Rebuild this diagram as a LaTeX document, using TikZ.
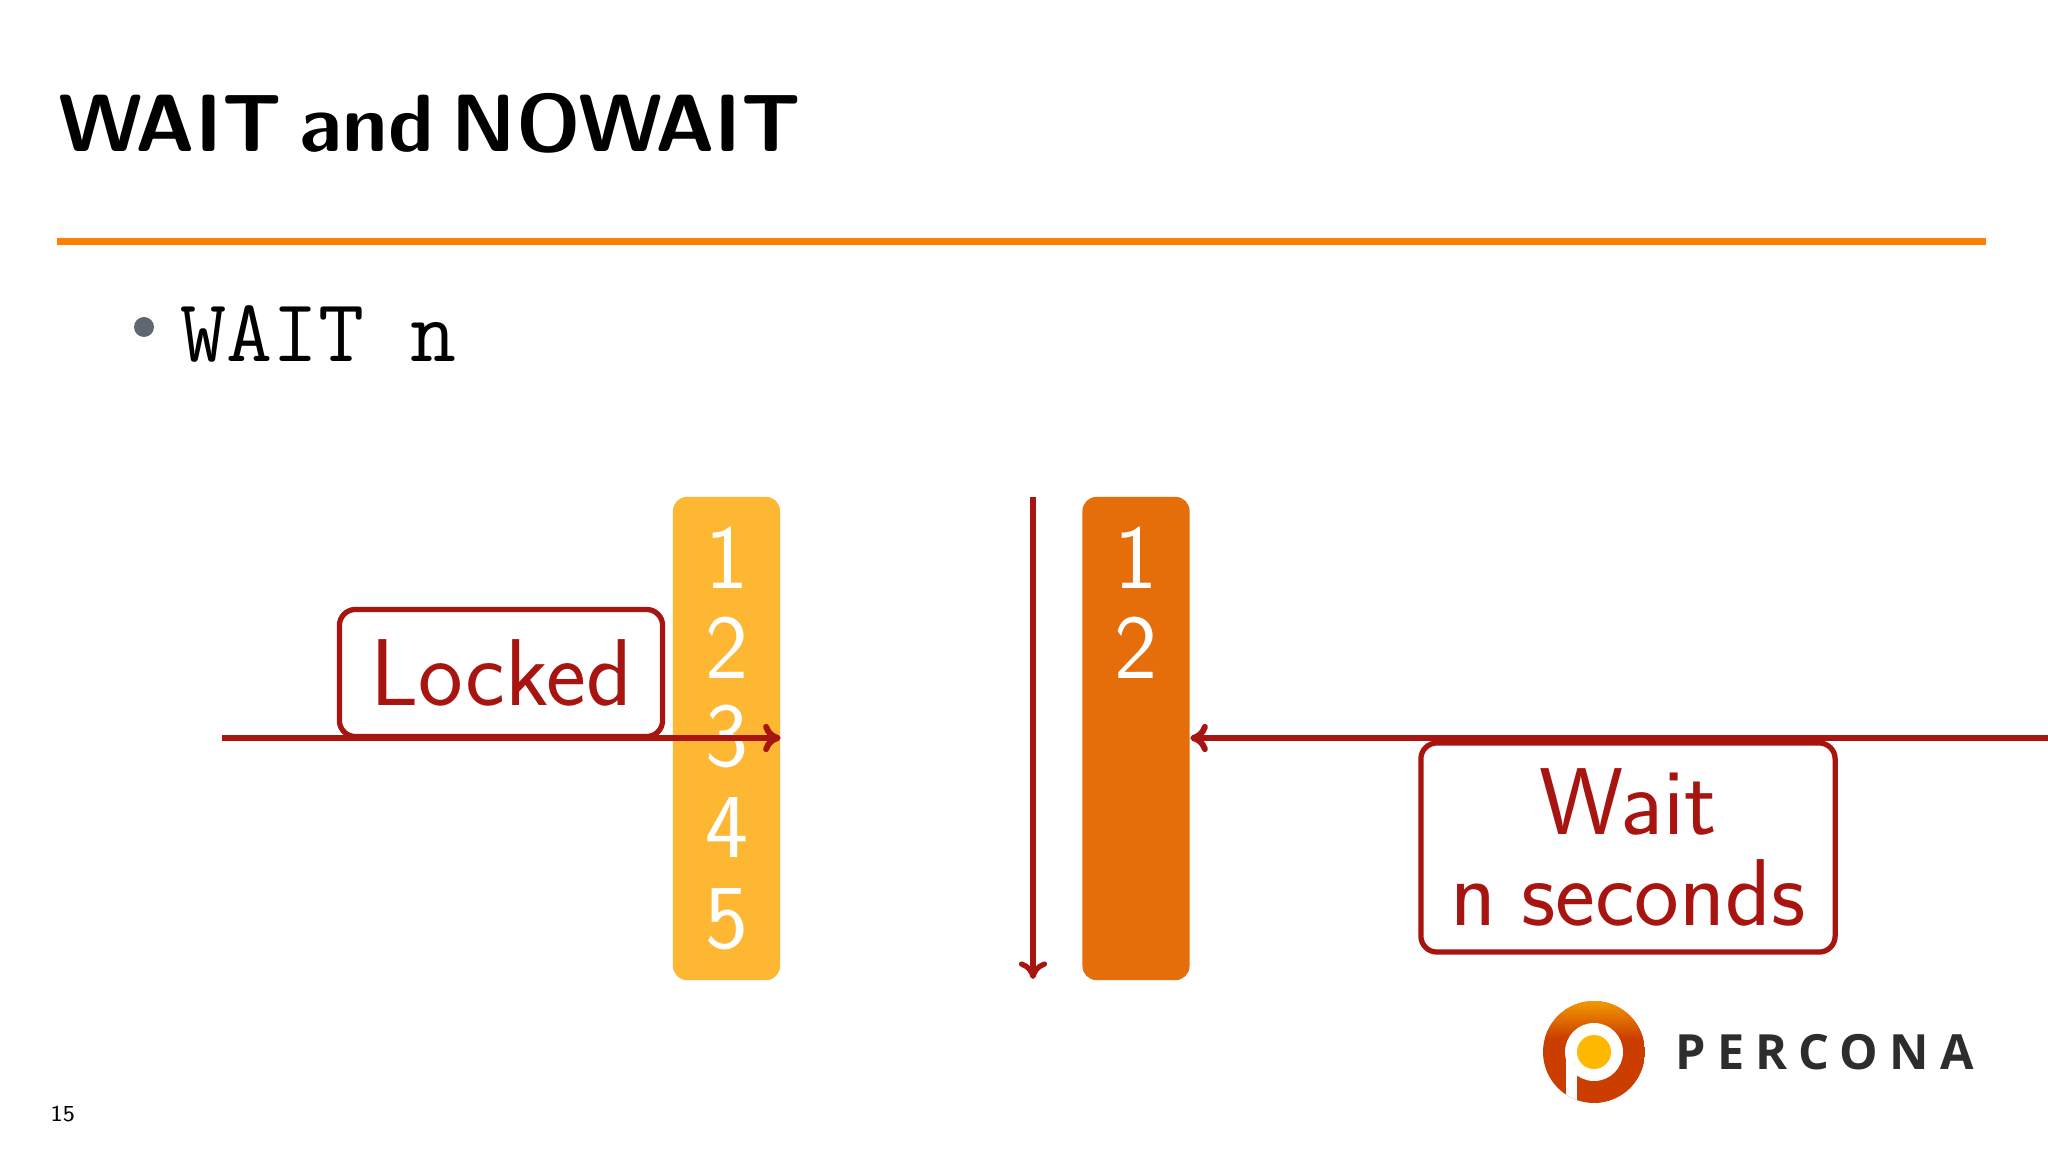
\documentclass[tikz,border=0pt]{standalone}
\usepackage{fontspec}
\usepackage{xcolor}
\usetikzlibrary{arrows.meta}
\newfontfamily\logofont[LetterSpace=23]{Open Sans}
\definecolor{lockred}{HTML}{A81510}
\definecolor{ruleorange}{HTML}{FF7F00}
\definecolor{bulletgray}{HTML}{5F6770}
\definecolor{baryellow}{HTML}{FDB733}
\definecolor{barorange}{HTML}{E56D0A}
\definecolor{logored}{HTML}{CC3E00}
\definecolor{logotop}{HTML}{F29A00}
\definecolor{logosun}{HTML}{FFB800}
\definecolor{logotext}{HTML}{2B2D2F}
\tikzset{
  rowbar/.style={rounded corners=0.14cm, minimum width=1.07cm, minimum height=4.83cm, inner sep=0pt},
  rownum/.style={text=white, font=\fontsize{26}{30}\selectfont\sffamily, inner sep=0pt},
  lockarrow/.style={draw=lockred, line width=1.7pt, ->, >={Computer Modern Rightarrow[length=5pt,width=8pt,line cap=round]}},
  notebox/.style={draw=lockred, line width=1.5pt, rounded corners=0.16cm, text=lockred, fill=white, inner sep=0pt, align=center, font=\fontsize{27}{26}\selectfont\sffamily}
}
\begin{document}
\begin{tikzpicture}[x=0.01cm,y=-0.01cm]
\useasboundingbox (0,0) rectangle (2048,1152);
\fill[white] (0,0) rectangle (2048,1152);
% title and rule
\node[anchor=base west, inner sep=0pt, font=\fontsize{23.1}{28}\selectfont\sffamily\bfseries] (title) at (58,152) {WAIT\hspace{5.2pt}and\hspace{5.2pt}NOWAIT};
\fill[ruleorange] (57,238) rectangle (1986,245);
% bullet
\fill[bulletgray] (144,327) circle (10);
\node[anchor=base west, inner sep=0pt, font=\fontsize{25.4}{28}\selectfont\ttfamily] (waitn) at (180,362) {WAIT n};
% the two result sets
\node[rowbar, fill=baryellow] (yellowbar) at (726.5,738.5) {};
\node[rowbar, fill=barorange] (orangebar) at (1136,738.5) {};
\foreach \num/\ypos in {1/588,2/679,3/766,4/857,5/948}
  \node[rownum, anchor=base] (yellow\num) at (726.5,\ypos) {\num};
\foreach \num/\ypos in {1/588,2/679}
  \node[rownum, anchor=base] (orange\num) at (1136,\ypos) {\num};
% boxes
\node[notebox, minimum width=3.23cm, minimum height=1.27cm] (locked) at (501,673) {Locked};
\node[notebox, minimum width=4.14cm, minimum height=2.09cm] (waitbox) at (1628,847.5) {Wait\\n\hspace{7pt}seconds};
% arrows
\coordinate (lockstart) at (222,738);
\coordinate (waitstart) at (2048,738);
\coordinate (readtop) at (1033,497);
\coordinate (readend) at (1033,979);
\draw[lockarrow] (lockstart) -- (lockstart -| yellowbar.east);
\draw[lockarrow] (waitstart) -- (waitstart -| orangebar.east);
\draw[lockarrow, line width=1.5pt] (readtop) -- (readend);
% logo
\begin{scope}
\clip (1594,1052) circle (51);
\fill[logored] (1543,1001) rectangle (1645,1103);
\shade[top color=logotop, bottom color=logored] (1543,1001) rectangle (1645,1038);
\fill[white] (1566,1052) rectangle (1577,1110);
\end{scope}
\fill[white] (1594,1052) circle (29);
\fill[logosun] (1594,1052) circle (17);
\node[anchor=base west, inner sep=0pt, text=logotext, font=\logofont\bfseries\fontsize{13.8}{16}\selectfont] (brand) at (1675,1069) {PERCONA};
% page number
\node[anchor=base west, inner sep=0pt, font=\fontsize{6.5}{8}\selectfont\sffamily] (pagenum) at (50,1121) {15};
\end{tikzpicture}
\end{document}
